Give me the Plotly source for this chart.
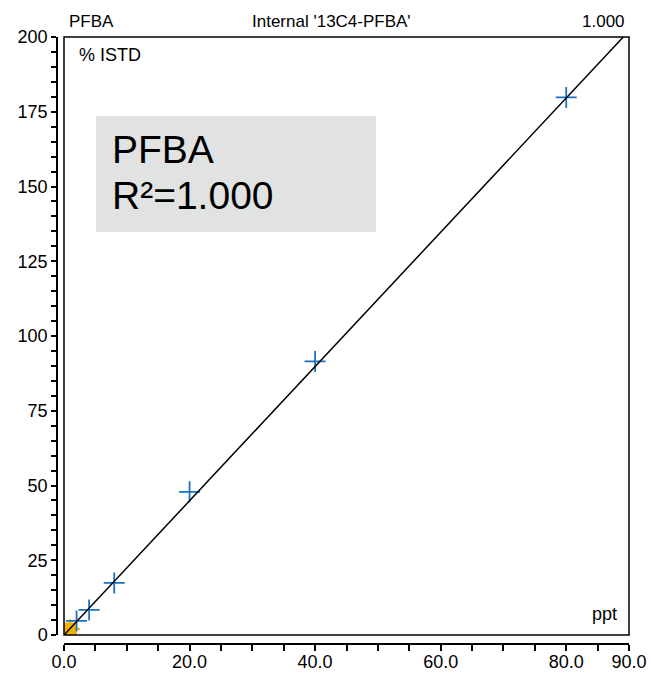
import plotly.graph_objects as go

# Calibration data for PFBA against internal standard 13C4-PFBA
conc_ppt = [2, 4, 8, 20, 40, 80]
pct_istd = [4.7, 8.4, 17.4, 47.9, 91.5, 179.8]

# Highlighted (excluded) low-level point
flag_conc = [1.0]
flag_resp = [2.0]

# Linear fit through origin
fit_slope = 2.245
fit_x = [0, 90]

x_ticks = [0, 20, 40, 60, 80, 90]
x_ticktext = ["0.0", "20.0", "40.0", "60.0", "80.0", "90.0"]
y_ticks = [0, 25, 50, 75, 100, 125, 150, 175, 200]

W, H = 652, 673
FONT = "Liberation Sans, Arial, sans-serif"

# plot box in pixels
bx0, bx1 = 64, 629
by0, by1 = 37, 635


def px(x):
    return x / W


def py(y):
    return 1 - y / H


fig = go.Figure()

fig.add_trace(go.Scatter(
    x=flag_conc, y=flag_resp, mode="markers",
    marker=dict(symbol="square", size=13, color="#f2b200", line=dict(width=0)),
    showlegend=False, hoverinfo="skip"))
fig.add_trace(go.Scatter(
    x=flag_conc, y=flag_resp, mode="markers",
    marker=dict(symbol="cross-thin", size=14, line=dict(width=2, color="#f2b200")),
    showlegend=False, hoverinfo="skip"))

fig.add_trace(go.Scatter(
    x=conc_ppt, y=pct_istd, mode="markers",
    marker=dict(symbol="cross-thin", size=15, line=dict(width=1.8, color="#1a72c4")),
    showlegend=False))

fig.add_trace(go.Scatter(
    x=fit_x, y=[fit_slope * v for v in fit_x], mode="lines",
    line=dict(color="black", width=1.5),
    showlegend=False, hoverinfo="skip"))

fig.update_layout(
    width=W, height=H,
    margin=dict(l=0, r=0, t=0, b=0, autoexpand=False),
    paper_bgcolor="white", plot_bgcolor="white",
    font=dict(family=FONT, size=18, color="black"),
    xaxis=dict(
        domain=[px(bx0), px(bx1)], range=[0, 90],
        anchor="free", position=py(644), automargin=False,
        showline=True, linecolor="black", linewidth=1.5,
        showgrid=False, zeroline=False,
        ticks="outside", ticklen=6, tickwidth=1.5, tickcolor="black",
        tickmode="array", tickvals=x_ticks, ticktext=x_ticktext,
        ticklabelstandoff=-4,
        minor=dict(ticks="outside", dtick=5, tick0=0, ticklen=6,
                   tickwidth=1.5, tickcolor="black"),
        tickfont=dict(size=18),
    ),
    yaxis=dict(
        domain=[py(by1), py(by0)], range=[0, 200],
        anchor="free", position=px(57), automargin=False,
        showline=True, linecolor="black", linewidth=1.5,
        showgrid=False, zeroline=False,
        ticks="outside", ticklen=5, tickwidth=1.5, tickcolor="black",
        tickmode="array", tickvals=y_ticks,
        minor=dict(ticks="outside", dtick=5, tick0=0, ticklen=5,
                   tickwidth=1.5, tickcolor="black"),
        tickfont=dict(size=18),
    ),
    shapes=[
        dict(type="rect", xref="paper", yref="paper",
             x0=px(bx0), x1=px(bx1), y0=py(by1), y1=py(by0),
             line=dict(color="black", width=1.5), fillcolor="rgba(0,0,0,0)",
             layer="above"),
        dict(type="rect", xref="paper", yref="paper",
             x0=px(96), x1=px(376), y0=py(232), y1=py(116),
             line=dict(width=0), fillcolor="#e1e2e2", layer="below"),
    ],
)

annots = [
    dict(text="PFBA", x=px(67), y=py(21), xanchor="left", size=17),
    dict(text="Internal '13C4-PFBA'", x=px(332), y=py(21), xanchor="center", size=17),
    dict(text="1.000", x=px(627), y=py(21), xanchor="right", size=17),
    dict(text="% ISTD", x=px(77), y=py(55), xanchor="left", size=18),
    dict(text="ppt", x=px(619), y=py(614), xanchor="right", size=18),
    dict(text="PFBA", x=px(110), y=py(149), xanchor="left", size=39),
    dict(text="R²=1.000", x=px(110), y=py(195), xanchor="left", size=39),
]
for a in annots:
    fig.add_annotation(
        text=a["text"], x=a["x"], y=a["y"], xref="paper", yref="paper",
        xanchor=a["xanchor"], yanchor="middle", showarrow=False,
        font=dict(family=FONT, size=a["size"], color="black"))

fig.write_html("out.html")
